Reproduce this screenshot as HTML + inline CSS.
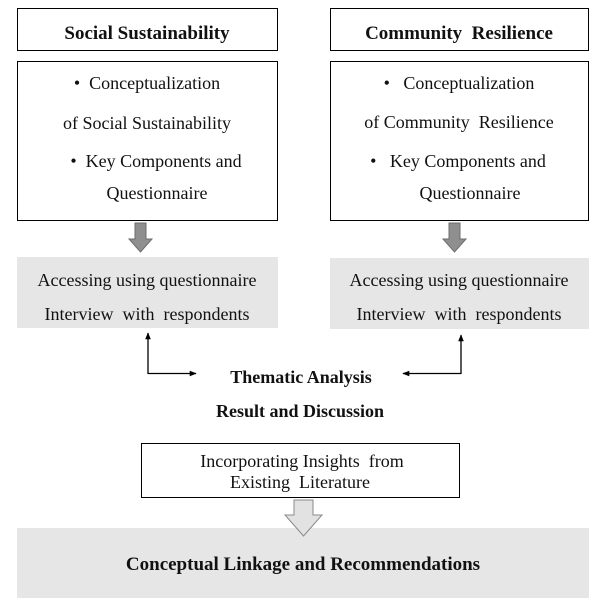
<!DOCTYPE html>
<html><head><meta charset="utf-8"><style>
html,body{margin:0;padding:0;background:#fff;}
svg{display:block;}
text{font-family:"Liberation Serif",serif;fill:#111;white-space:pre;}
.b{font-weight:bold;}
</style></head><body>
<svg width="602" height="614" viewBox="0 0 602 614" xmlns="http://www.w3.org/2000/svg" xml:space="preserve">
<defs>
<marker id="ah" viewBox="0 0 10 10" refX="9" refY="5" markerWidth="7" markerHeight="7" orient="auto-start-reverse" markerUnits="userSpaceOnUse"><path d="M0,1 L10,5 L0,9 z" fill="#000"/></marker>
</defs>
<rect x="17.5" y="8.5" width="260" height="42" fill="#fff" stroke="#000"/>
<rect x="330.5" y="8.5" width="258" height="42" fill="#fff" stroke="#000"/>
<text x="147" y="39" font-size="19" text-anchor="middle" class="b">Social Sustainability</text>
<text x="459" y="39" font-size="19" text-anchor="middle" class="b">Community  Resilience</text>

<rect x="17.5" y="61.5" width="260" height="159" fill="#fff" stroke="#000"/>
<rect x="330.5" y="61.5" width="258" height="159" fill="#fff" stroke="#000"/>
<g font-size="18">
<text x="147" y="89" text-anchor="middle">•  Conceptualization</text>
<text x="147" y="129" text-anchor="middle">of Social Sustainability</text>
<text x="156" y="167" text-anchor="middle">•  Key Components and</text>
<text x="157" y="199" text-anchor="middle">Questionnaire</text>
<text x="459" y="89" text-anchor="middle">•   Conceptualization</text>
<text x="459" y="128" text-anchor="middle">of Community  Resilience</text>
<text x="458" y="167" text-anchor="middle">•   Key Components and</text>
<text x="470" y="199" text-anchor="middle">Questionnaire</text>
</g>

<path d="M135,223 H146 V239 H152 L140.5,252 L129,239 H135 Z" fill="#8f8f8f" stroke="#6e6e6e"/>
<path d="M449,223 H460 V239 H466 L454.5,252 L443,239 H449 Z" fill="#8f8f8f" stroke="#6e6e6e"/>

<rect x="17" y="257" width="261" height="71" fill="#e6e6e6"/>
<rect x="330" y="258" width="259" height="71" fill="#e6e6e6"/>
<g font-size="18">
<text x="147" y="286" text-anchor="middle">Accessing using questionnaire</text>
<text x="147" y="320" text-anchor="middle">Interview  with  respondents</text>
<text x="459" y="286" text-anchor="middle">Accessing using questionnaire</text>
<text x="459" y="320" text-anchor="middle">Interview  with  respondents</text>
</g>

<path d="M148,374 V333" fill="none" stroke="#000" stroke-width="1.3" marker-end="url(#ah)"/>
<path d="M148,373.5 H196" fill="none" stroke="#000" stroke-width="1.3" marker-end="url(#ah)"/>
<path d="M461,374 V335" fill="none" stroke="#000" stroke-width="1.3" marker-end="url(#ah)"/>
<path d="M461,373.5 H403" fill="none" stroke="#000" stroke-width="1.3" marker-end="url(#ah)"/>

<text x="301" y="383" font-size="18" text-anchor="middle" class="b">Thematic Analysis</text>
<text x="300" y="417" font-size="18" text-anchor="middle" class="b">Result and Discussion</text>

<rect x="141.5" y="443.5" width="318" height="54" fill="#fff" stroke="#000"/>
<text x="302" y="467" font-size="18" text-anchor="middle">Incorporating Insights  from</text>
<text x="300" y="488" font-size="18" text-anchor="middle">Existing  Literature</text>

<rect x="17" y="528" width="572" height="70" fill="#e6e6e6"/>
<path d="M294,500 H313 V515 H322 L303.5,536 L285,515 H294 Z" fill="#e2e2e2" stroke="#8a8a8a"/>
<text x="303" y="570" font-size="19" text-anchor="middle" class="b">Conceptual Linkage and Recommendations</text>
</svg>
</body></html>
